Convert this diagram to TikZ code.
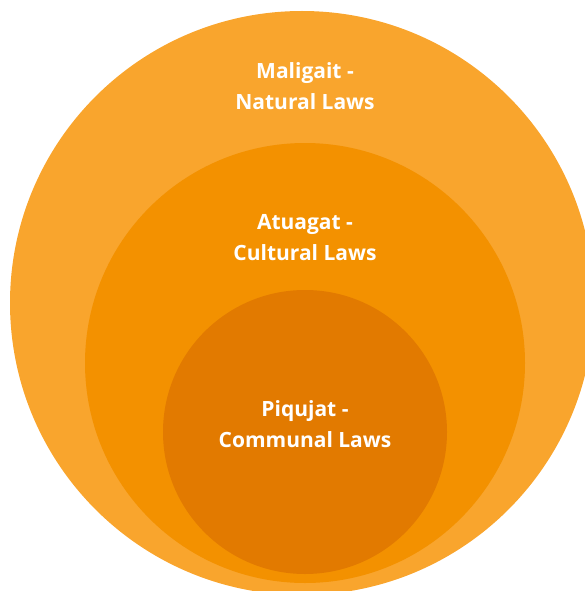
\documentclass[tikz,border=0pt]{standalone}
\usepackage{fontspec}
\setmainfont{Open Sans}
\usetikzlibrary{positioning}
\definecolor{lawouter}{RGB}{249,165,45}
\definecolor{lawmiddle}{RGB}{243,145,0}
\definecolor{lawinner}{RGB}{226,122,0}
\tikzset{
    ring/.style={circle, inner sep=0pt, outer sep=0pt},
    lawtext/.style={text=white, font=\bfseries\fontsize{21}{31}\selectfont, align=center}
}

\begin{document}
\begin{tikzpicture}[x=1pt,y=-1pt]
    \useasboundingbox (0,0) rectangle (585,591);
    \clip (0,0) rectangle (585,591);
    % nested circles
    \node[ring, fill=lawouter,  minimum size=584pt] (natural)  at (302,303) {};
    \node[ring, fill=lawmiddle, minimum size=440pt] (cultural) at (305,363) {};
    \node[ring, fill=lawinner,  minimum size=284pt] (communal) at (305,432) {};
    % labels
    \node[lawtext] (naturaltxt)  at (305,86)  {Maligait -\\Natural Laws};
    \node[lawtext] (culturaltxt) at (305,238) {Atuagat -\\Cultural Laws};
    \node[lawtext] (communaltxt) at (305,424) {Piqujat -\\Communal Laws};
\end{tikzpicture}
\end{document}
